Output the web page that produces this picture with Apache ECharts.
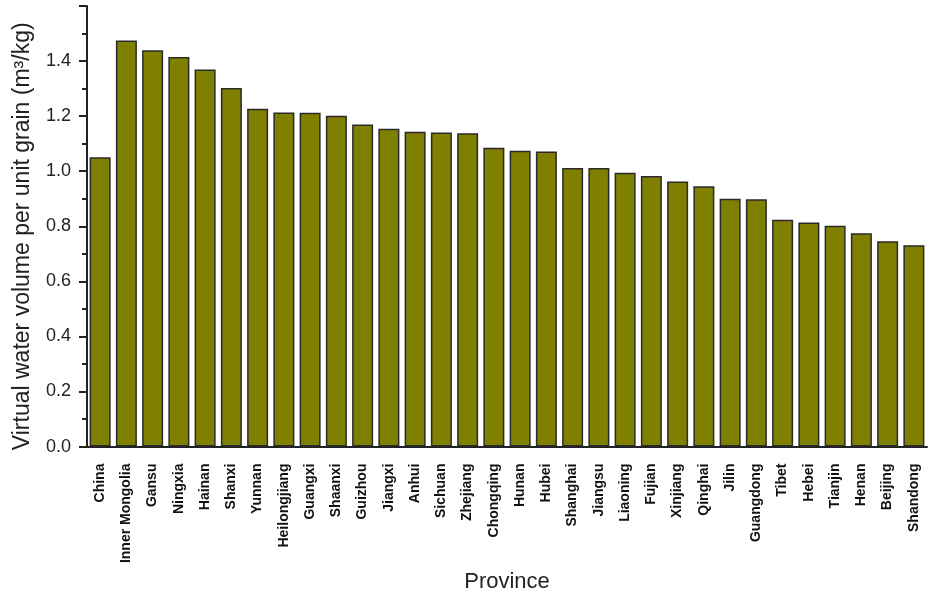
<!DOCTYPE html>
<html>
<head>
<meta charset="utf-8">
<script src="https://cdn.jsdelivr.net/npm/echarts@6/dist/echarts.min.js"></script>
<style>
  html, body { margin: 0; padding: 0; background: #fff; }
  #chart { width: 929px; height: 598px; }
</style>
</head>
<body>
<div id="chart"></div>
<script>
var provinces = ["China", "Inner Mongolia", "Gansu", "Ningxia", "Hainan", "Shanxi", "Yunnan",
  "Heilongjiang", "Guangxi", "Shaanxi", "Guizhou", "Jiangxi", "Anhui", "Sichuan", "Zhejiang",
  "Chongqing", "Hunan", "Hubei", "Shanghai", "Jiangsu", "Liaoning", "Fujian", "Xinjiang",
  "Qinghai", "Jilin", "Guangdong", "Tibet", "Hebei", "Tianjin", "Henan", "Beijing", "Shandong"];

var waterVolume = [1.051, 1.475, 1.439, 1.415, 1.369, 1.302, 1.227,
  1.213, 1.212, 1.201, 1.170, 1.154, 1.143, 1.141, 1.138,
  1.085, 1.074, 1.072, 1.012, 1.012, 0.994, 0.983, 0.963,
  0.945, 0.900, 0.898, 0.824, 0.814, 0.802, 0.775, 0.746, 0.731];

var chart = echarts.init(document.getElementById('chart'));

var font = '"Liberation Sans", Arial, sans-serif';

var option = {
  backgroundColor: '#fff',
  animation: false,
  grid: { left: 87, right: 2, top: 6, bottom: 149 },
  xAxis: [
    {
      type: 'category',
      data: provinces,
      name: 'Province',
      nameLocation: 'middle',
      nameGap: 121,
      nameTextStyle: { fontFamily: font, fontSize: 22, color: '#222' },
      axisLine: { lineStyle: { color: '#222', width: 2 } },
      axisTick: { alignWithLabel: true, length: 10, lineStyle: { color: '#222', width: 2 } },
      axisLabel: { rotate: 90, interval: 0, margin: 17, fontFamily: font, fontSize: 14, fontWeight: 'bold', color: '#111' }
    },
    {
      // short ticks on the category boundaries
      type: 'category',
      data: provinces,
      position: 'bottom',
      axisLine: { show: false },
      axisTick: { length: 5, lineStyle: { color: '#222', width: 2 } },
      axisLabel: { show: false }
    }
  ],
  yAxis: {
    type: 'value',
    min: 0,
    max: 1.6,
    interval: 0.2,
    name: 'Virtual water volume per unit grain (m\u00b3/kg)',
    nameLocation: 'middle',
    nameGap: 53,
    nameTextStyle: { fontFamily: font, fontSize: 23, color: '#222', padding: [0, 20, 0, 0] },
    axisLine: { show: true, lineStyle: { color: '#222', width: 2 } },
    axisTick: { show: true, length: 8, lineStyle: { color: '#222', width: 2 } },
    minorTick: { show: true, splitNumber: 2, length: 5, lineStyle: { color: '#222', width: 2 } },
    splitLine: { show: false },
    axisLabel: {
      showMaxLabel: false,
      margin: 16,
      fontFamily: font,
      fontSize: 18,
      color: '#222',
      formatter: function (v) { return v.toFixed(1); }
    }
  },
  series: [
    {
      type: 'bar',
      data: waterVolume,
      barCategoryGap: '20%',
      itemStyle: { color: '#808000', borderColor: '#2a2a2a', borderWidth: 1.5 }
    }
  ]
};

chart.setOption(option);
</script>
</body>
</html>
